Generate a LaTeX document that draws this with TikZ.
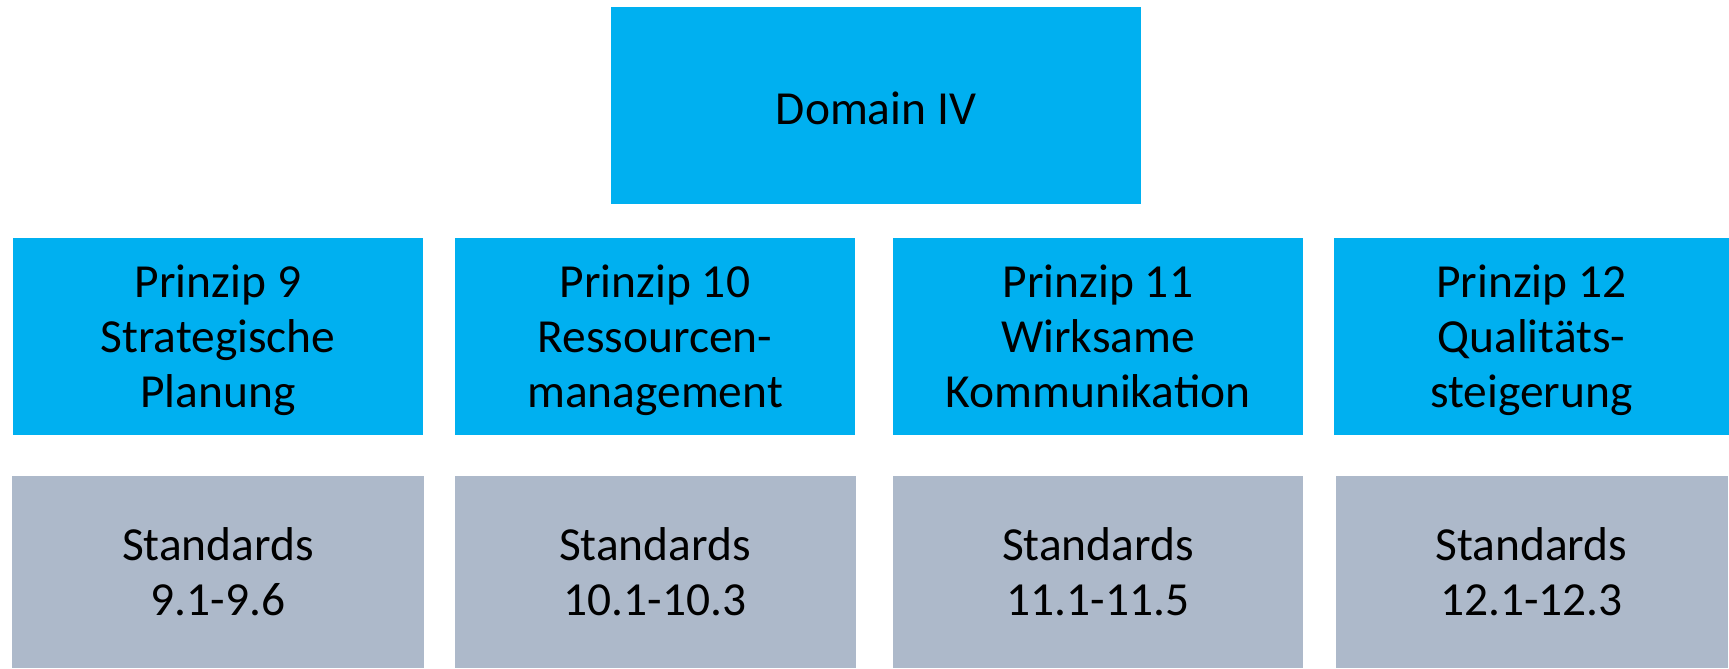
\documentclass[tikz,border=0pt]{standalone}
\usepackage{fontspec}
\setmainfont{Carlito}
\usetikzlibrary{positioning}
\definecolor{prinzipblue}{HTML}{00B0F0}
\definecolor{standardgray}{HTML}{ADB9CA}
\tikzset{
  box/.style={inner sep=0pt, outer sep=0pt, align=center, text=black,
    font=\fontsize{27}{31.3}\selectfont,
    execute at begin node=\rule{0pt}{21.6pt}, text depth=0pt},
  domainbox/.style={box, fill=prinzipblue, minimum width=10.6cm, minimum height=3.94cm},
  prinzipbox/.style={box, fill=prinzipblue, minimum height=3.94cm},
  standardbox/.style={box, fill=standardgray, minimum height=3.84cm},
}

\begin{document}
\begin{tikzpicture}
 \useasboundingbox (0,0) rectangle (34.58,-13.36);
 \node [domainbox, anchor=north west] (domain) at (12.22,-0.14) {Domain IV};
 \node [prinzipbox, minimum width=8.2cm, anchor=north west] (p9) at (0.26,-4.76) {Prinzip 9\\Strategische\\Planung};
 \node [prinzipbox, minimum width=8.0cm, right=0.64cm of p9] (p10) {Prinzip 10\\Ressourcen-\\management};
 \node [prinzipbox, minimum width=8.2cm, right=0.76cm of p10] (p11) {Prinzip 11\\Wirksame\\Kommunikation};
 \node [prinzipbox, minimum width=7.9cm, right=0.62cm of p11] (p12) {Prinzip 12\\Qualitäts-\\steigerung};
 \node [standardbox, minimum width=8.22cm, below=0.82cm of p9] (s9) {Standards\\9.1-9.6};
 \node [standardbox, minimum width=8.02cm, below=0.82cm of p10] (s10) {Standards\\10.1-10.3};
 \node [standardbox, minimum width=8.2cm, below=0.82cm of p11] (s11) {Standards\\11.1-11.5};
 \node [standardbox, minimum width=7.84cm, below=0.82cm of p12] (s12) {Standards\\12.1-12.3};
\end{tikzpicture}
\end{document}
